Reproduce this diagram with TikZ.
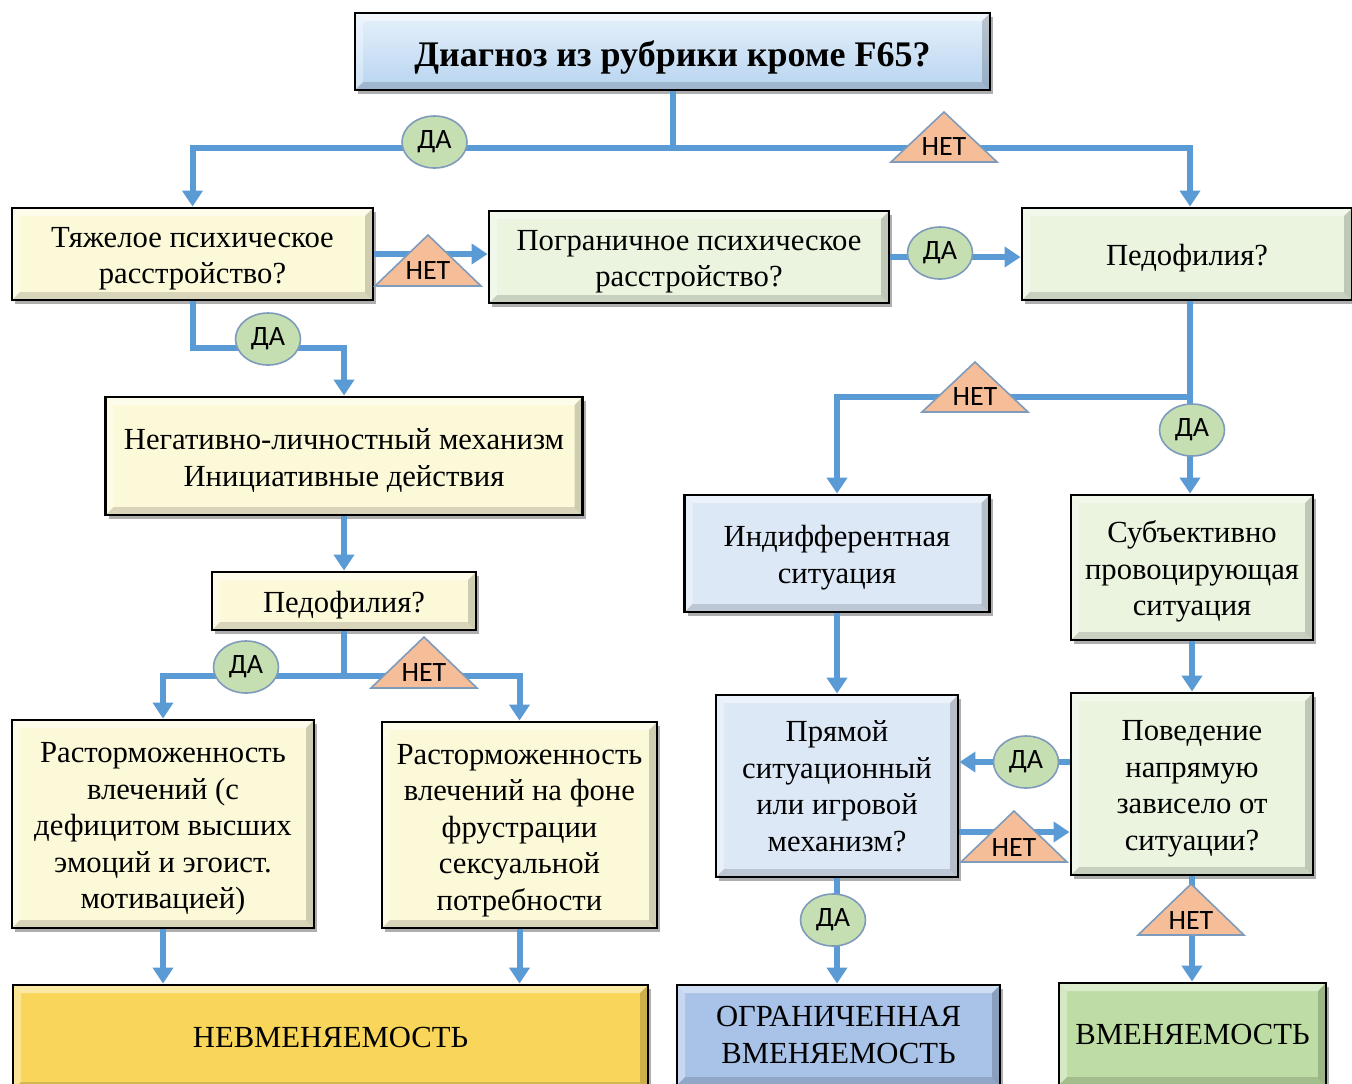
\documentclass[tikz,border=0pt]{standalone}
\usepackage{fontspec}
\setmainfont{Liberation Serif}
\newfontfamily\labfont{Carlito}
\usetikzlibrary{arrows.meta,shadows,calc,shapes.geometric}
\definecolor{lineblue}{HTML}{5B9BD5}
\definecolor{cream}{HTML}{FCF9D9}
\definecolor{lgreen}{HTML}{EAF4DF}
\definecolor{lblue}{HTML}{DDE8F6}
\definecolor{gold}{HTML}{F9D65A}
\definecolor{midblue}{HTML}{A9C3E8}
\definecolor{midgreen}{HTML}{BEDDA4}
\definecolor{dagreen}{HTML}{C6DFB2}
\definecolor{netsalmon}{HTML}{F6BE98}
\definecolor{labedge}{HTML}{7F9BBB}
\definecolor{topA}{HTML}{E6F1FB}
\definecolor{topB}{HTML}{B7D4F0}
\tikzset{
  bevel/.style={path picture={
    \fill[white,opacity=.45] (path picture bounding box.north west) -- (path picture bounding box.north east)
       -- ([shift={(-8,8)}]path picture bounding box.north east) -- ([shift={(8,8)}]path picture bounding box.north west) -- cycle;
    \fill[white,opacity=.35] (path picture bounding box.north west) -- (path picture bounding box.south west)
       -- ([shift={(8,-8)}]path picture bounding box.south west) -- ([shift={(8,8)}]path picture bounding box.north west) -- cycle;
    \fill[black,opacity=.14] (path picture bounding box.south west) -- (path picture bounding box.south east)
       -- ([shift={(-8,-8)}]path picture bounding box.south east) -- ([shift={(8,-8)}]path picture bounding box.south west) -- cycle;
    \fill[black,opacity=.18] (path picture bounding box.north east) -- (path picture bounding box.south east)
       -- ([shift={(-8,-8)}]path picture bounding box.south east) -- ([shift={(-8,8)}]path picture bounding box.north east) -- cycle;
  }},
}
\newcommand\sh{\rule{0pt}{0.97em}}
\newcommand\shtop{\rule{0pt}{1.05em}}
\newcommand\nettri[4]{%
  \filldraw[net] ({#2-53},#4) -- (#2,#3) -- ({#2+53},#4) -- cycle;
  \node[nettext] (#1) at (#2,{#4-15}) {НЕТ};
}
\begin{document}
\begin{tikzpicture}[x=0.75pt,y=-0.75pt,
  box/.style={draw=black,line width=2.2pt,align=center,inner sep=0pt,
     font=\fontsize{23}{27.4}\selectfont, bevel,
     drop shadow={shadow xshift=2.5pt,shadow yshift=-3pt,opacity=0.45,fill=black!70}},
  sz/.style 2 args={minimum width=#1*0.75pt,minimum height=#2*0.75pt},
  arr/.style={draw=lineblue,line width=4.5pt,-{Triangle[width=15pt,length=12pt]}},
  ln/.style={draw=lineblue,line width=4.5pt},
  da/.style={ellipse,draw=labedge,line width=1.2pt,fill=dagreen,minimum width=65*0.75pt,
     minimum height=52*0.75pt,inner sep=0pt,font=\labfont\fontsize{21}{21}\selectfont},
  net/.style={draw=labedge,line width=1.2pt,fill=netsalmon},
  nettext/.style={font=\labfont\fontsize{21}{21}\selectfont,inner sep=0pt},
]
\fill[white] (0,0) rectangle (1352,1083);
\useasboundingbox (0,0) rectangle (1352,1083);

% boxes
\node[box,sz={635}{77},top color=topA,bottom color=topB,font=\bfseries\fontsize{27}{30}\selectfont] (top) at (672.5,51.5) {\shtop Диагноз из рубрики кроме F65?};
\node[box,sz={361}{92},fill=cream] (tyazh) at (192.5,254) {\sh Тяжелое психическое\\расстройство?};
\node[box,sz={400}{92},fill=lgreen] (pogr) at (689,257) {\sh Пограничное психическое\\расстройство?};
\node[box,sz={330}{92},fill=lgreen] (pedR) at (1187,254) {\sh Педофилия?};
\node[box,sz={477}{118},fill=cream] (neg) at (344,456) {\sh Негативно-личностный механизм\\Инициативные действия};
\node[box,sz={264}{58},fill=cream] (pedL) at (344,601) {\sh Педофилия?};
\node[box,sz={302}{208},fill=cream] (rast1) at (163,824) {\sh Расторможенность\\влечений (с\\дефицитом высших\\эмоций и эгоист.\\мотивацией)};
\node[box,sz={275}{206},fill=cream] (rast2) at (519.5,825) {\rule{0pt}{1.02em}Расторможенность\\влечений на фоне\\фрустрации\\сексуальной\\потребности};
\node[box,sz={635}{105},fill=gold] (nevm) at (330.5,1037.5) {НЕВМЕНЯЕМОСТЬ};
\node[box,sz={305}{117},fill=lblue] (indiff) at (837,553.5) {\sh Индифферентная\\ситуация};
\node[box,sz={242}{145},fill=lgreen] (subj) at (1192,567.5) {\sh Субъективно\\провоцирующая\\ситуация};
\node[box,sz={242}{182},fill=lblue] (pryam) at (837,786) {Прямой\\ситуационный\\или игровой\\механизм?};
\node[box,sz={242}{182},fill=lgreen] (poved) at (1192,784) {\sh Поведение\\напрямую\\зависело от\\ситуации?};
\node[box,sz={323}{100},fill=midblue] (ogr) at (838.5,1035) {ОГРАНИЧЕННАЯ\\ВМЕНЯЕМОСТЬ};
\node[box,sz={267}{102},fill=midgreen] (vmen) at (1192.5,1034) {ВМЕНЯЕМОСТЬ};

% connectors
\coordinate (j1) at (672.5,148);
\draw[ln] (top.south) -- (j1);
\draw[arr] (j1) -| (tyazh.north);
\coordinate (j4) at (1190,397);
\draw[arr] (j1) -| (j4 |- pedR.north);
\draw[arr] (tyazh.east) -- (tyazh.east -| pogr.west);
\draw[arr] (pogr.east) -- (pogr.east -| pedR.west);
\coordinate (j2) at (192.5,348);
\draw[arr] (tyazh.south) -- (j2) -| (neg.north);
\draw[arr] (neg.south) -- (pedL.north);
\coordinate (j3) at (344,676);
\draw[ln] (pedL.south) -- (j3);
\draw[arr] (j3) -| (rast1.north);
\draw[arr] (j3) -| (rast2.north);
\draw[arr] (rast1.south) -- (rast1.south |- nevm.north);
\draw[arr] (rast2.south) -- (rast2.south |- nevm.north);
\draw[ln] (j4 |- pedR.south) -- (j4);
\draw[arr] (j4) -| (indiff.north);
\draw[arr] (j4) -- (j4 |- subj.north);
\draw[arr] (indiff.south) -- (pryam.north);
\draw[arr] (subj.south) -- (poved.north);
\coordinate (h1) at (1010,762);
\coordinate (h2) at (1010,832);
\draw[arr] (h1 -| poved.west) -- (h1 -| pryam.east);
\draw[arr] (h2 -| pryam.east) -- (h2 -| poved.west);
\draw[arr] (pryam.south) -- (pryam.south |- ogr.north);
\draw[arr] (poved.south) -- (poved.south |- vmen.north);

% labels
\node[da] (da1) at (434.5,142) {ДА};
\nettri{net1}{944}{112}{162}
\nettri{net2}{428}{235}{286}
\node[da] (da2) at (940,253) {ДА};
\node[da] (da3) at (268,339) {ДА};
\node[da] (da4) at (246,667) {ДА};
\nettri{net3}{424}{637}{688}
\nettri{net4}{975}{362}{412}
\node[da] (da5) at (1192,430) {ДА};
\node[da] (da6) at (1026,762) {ДА};
\nettri{net5}{1014}{811}{862}
\node[da] (da7) at (833,920) {ДА};
\nettri{net6}{1191}{884}{935}
\end{tikzpicture}
\end{document}
